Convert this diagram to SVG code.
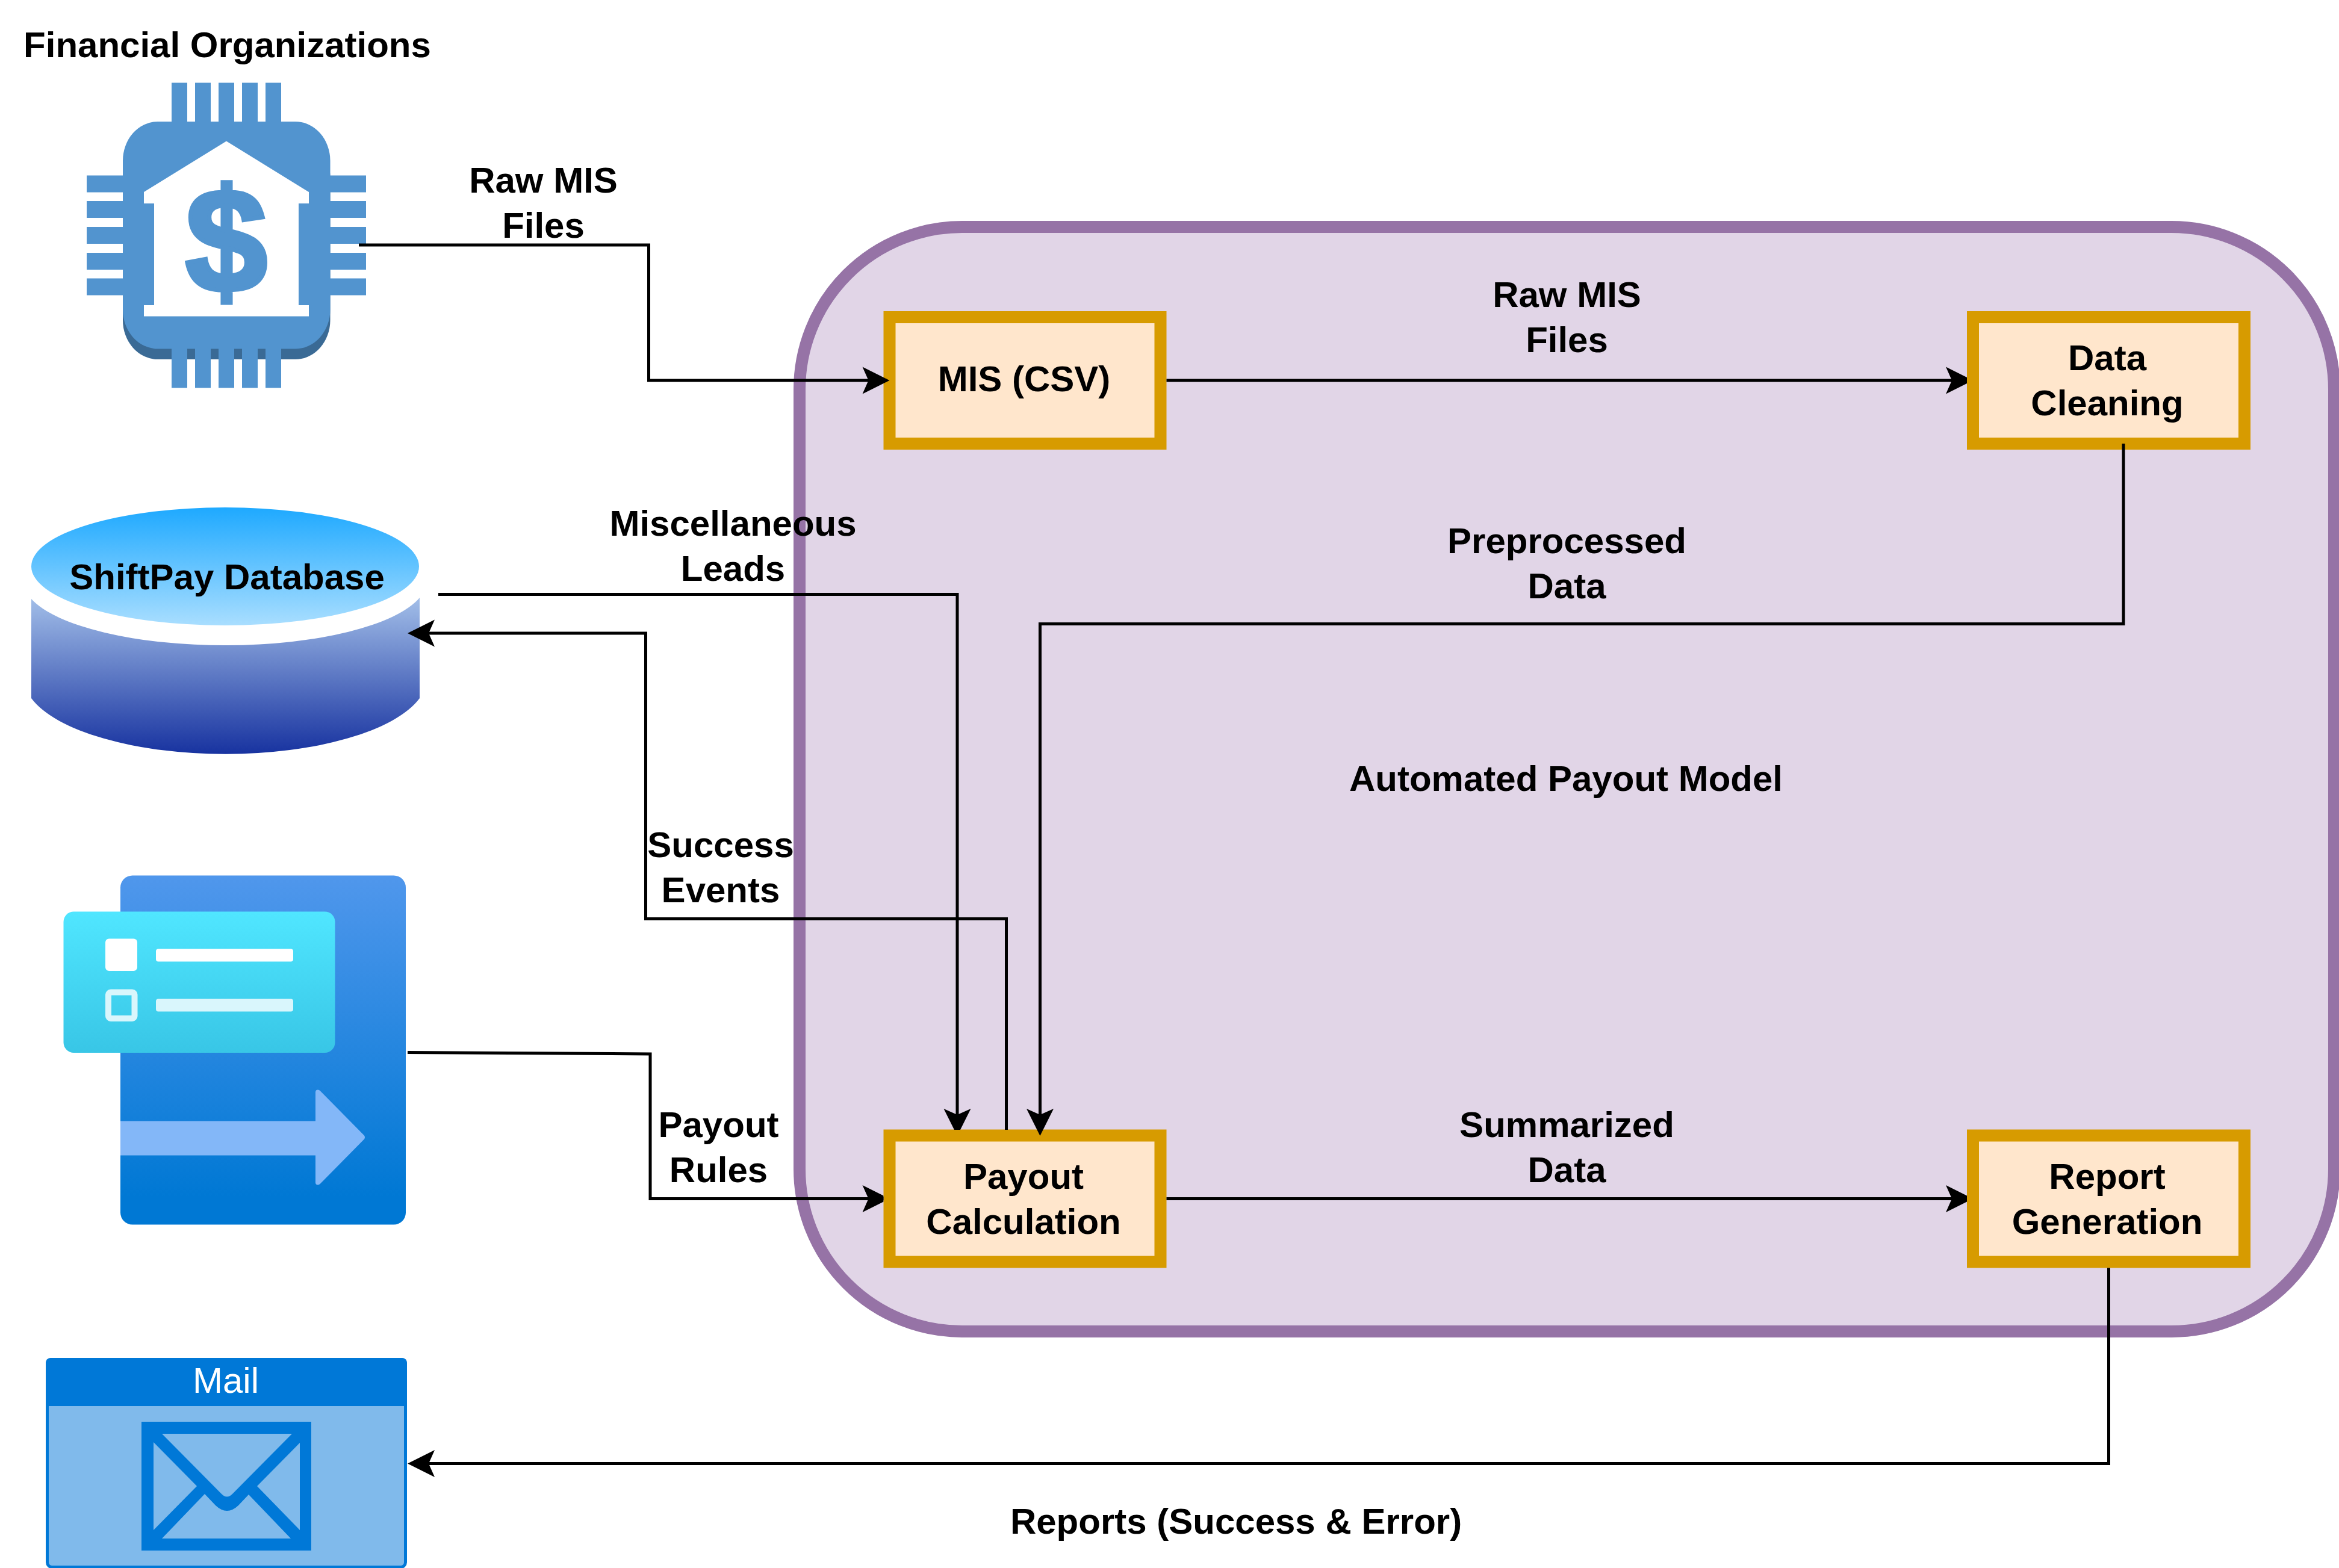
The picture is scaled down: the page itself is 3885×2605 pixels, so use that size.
<svg xmlns="http://www.w3.org/2000/svg" width="3885" height="2605" viewBox="0 0 3885 2605">
<style>
text{font-family:"Liberation Sans",Arial,sans-serif;font-size:60px;font-weight:700;fill:#000;text-anchor:middle}
.box{fill:#FFE6CC;stroke:#D79B00;stroke-width:20}
.c{fill:none;stroke:#000;stroke-width:5;stroke-linejoin:miter}
.a{marker-end:url(#arrow)}
.chip{fill:#5294CF}
</style>
<defs>
<marker id="arrow" markerUnits="userSpaceOnUse" markerWidth="46" markerHeight="46" refX="40" refY="22.5" orient="auto" overflow="visible"><path d="M0 0L45 22.5L0 45L10 22.5Z" fill="#000"/></marker>
<linearGradient id="dbTop" x1="0" y1="0" x2="0" y2="1"><stop offset="0" stop-color="#1EA9FF"/><stop offset="1" stop-color="#A9DEFF"/></linearGradient>
<linearGradient id="dbBody" gradientUnits="userSpaceOnUse" x1="0" y1="993" x2="0" y2="1252"><stop offset="0" stop-color="#A2BEE8"/><stop offset="1" stop-color="#1833A0"/></linearGradient>
<linearGradient id="doc" x1="0" y1="0" x2="0" y2="1"><stop offset="0" stop-color="#5097EC"/><stop offset="0.92" stop-color="#0078D4"/></linearGradient>
<linearGradient id="card" x1="0" y1="0" x2="0" y2="1"><stop offset="0" stop-color="#50E6FF"/><stop offset="1" stop-color="#38C6E6"/></linearGradient>
<clipPath id="leftOfPayout"><rect x="0" y="0" width="1467.4" height="2605"/></clipPath>
<clipPath id="abovePayout"><rect x="0" y="0" width="3885" height="1877"/></clipPath>
<clipPath id="leftOfRight"><rect x="0" y="0" width="3267" height="2605"/></clipPath>
</defs>
<rect width="3885" height="2605" fill="#fff"/>
<g id="automated-payout-model">
<rect x="1328" y="377" width="2549" height="1835" rx="270" ry="270" fill="#E1D5E7" stroke="#9673A6" stroke-width="20"/>
<text x="2601" y="1314">Automated Payout Model</text>
</g>
<g id="financial-organizations">
<text x="377.500" y="94.500">Financial Organizations</text>
<rect x="204" y="230" width="344.500" height="367" rx="58" ry="65" fill="#3A6A95"/>
<path class="chip" d="M285 137.500h26V202h13v-64.500h26V202h13v-64.500h26V202h13v-64.500h26V202h13v-64.500h26V202h23.500a58 65 0 0 1 58 65v24.500h59.500v28H548.500V334h59.500v28H548.500v15h59.500v28H548.500v15h59.500v28H548.500v14.500h59.500v28H548.500V514.500a58 65 0 0 1-58 65H467v65h-26v-65h-13v65h-26v-65h-13v65h-26v-65h-13v65h-26v-65h-13v65h-26v-65H262a58 65 0 0 1-58-65V490.500H144v-28h60V448H144v-28h60V405H144v-28h60V362H144v-28h60V319.500H144v-28h60V267a58 65 0 0 1 58-65h23Z"/>
<path fill="#fff" d="M376 234.500L513 319V338H496V507H513V525.500H239V507H256V338H239V319Z"/>
<text x="376" y="485" style="font-size:245px;fill:#5294CF;stroke:#5294CF;stroke-width:7">$</text>
</g>
<g id="shiftpay-database">
<path fill="url(#dbBody)" d="M52 995A335 107 0 0 0 697 993V1160A335 127 0 0 1 52 1160Z"/>
<ellipse cx="374" cy="941" rx="322" ry="98" fill="url(#dbTop)"/>
<text x="377" y="979">ShiftPay Database</text>
</g>
<g id="payout-rules">
<rect x="200" y="1454.500" width="474" height="580" rx="20" fill="url(#doc)"/>
<rect x="105.500" y="1514.500" width="451" height="234.500" rx="17" fill="url(#card)"/>
<rect x="175" y="1559.500" width="53" height="53.500" rx="6" fill="#fff"/>
<rect x="259" y="1576.500" width="228" height="21" rx="4" fill="#fff"/>
<rect x="180" y="1648.500" width="43.500" height="43.500" rx="4" fill="none" stroke="#D9F6FC" stroke-width="10"/>
<rect x="259" y="1659.500" width="228" height="21" rx="4" fill="#D9F6FC"/>
<path fill="#83B7F8" d="M200 1862.500H524V1814.500Q524 1810.500 528 1810.500Q530 1810.500 532 1812.500L605 1886.500Q607 1889.500 605 1892.500L532 1966.500Q530 1968.500 528 1968.500Q524 1968.500 524 1964.500V1919.500H200Z"/>
</g>
<g id="mail">
<rect x="78.500" y="2258.500" width="595" height="345" rx="8" fill="#80BAEB" stroke="#0078D7" stroke-width="5"/>
<path fill="#0078D7" d="M76 2336V2264a8 8 0 0 1 8-8H668a8 8 0 0 1 8 8V2336Z"/>
<text x="375" y="2314" style="fill:#fff;font-weight:400">Mail</text>
<rect x="235" y="2362" width="282" height="214" fill="#0078D7"/>
<path fill="#80BAEB" d="M269 2382H485L387 2481Q377 2492 367 2481Z"/>
<path fill="#80BAEB" d="M255 2396L327 2469L255 2542Z"/>
<path fill="#80BAEB" d="M498 2397L427 2469L498 2542Z"/>
<path fill="#80BAEB" d="M269 2556L340 2482L358 2501Q377 2519 396 2501L413 2483L483 2556Z"/>
</g>
<g id="mis-csv"><rect class="box" x="1477.500" y="527" width="450" height="210"/><text x="1701" y="650">MIS (CSV)</text></g>
<g id="data-cleaning"><rect class="box" x="3277" y="527" width="451" height="210"/><text x="3500" y="615">Data</text><text x="3500" y="689.500">Cleaning</text></g>
<g id="payout-calculation"><rect class="box" x="1477.500" y="1886.500" width="450" height="210"/><text x="1700" y="1975">Payout</text><text x="1700" y="2050">Calculation</text></g>
<g id="report-generation"><rect class="box" x="3277" y="1886.500" width="451" height="210"/><text x="3500" y="1975">Report</text><text x="3500" y="2050">Generation</text></g>
<g id="connectors">
<path class="c a" d="M596 407H1077.500V632H1472.500"/>
<path class="c a" d="M1937.500 632H3272" clip-path="url(#leftOfRight)"/>
<path class="c a" d="M3527 737V1036.500H1727.500V1882"/>
<path class="c a" d="M728 987.500H1590V1882" clip-path="url(#abovePayout)"/>
<path class="c a" d="M1671.500 1877V1526.500H1072.500V1052H682"/>
<path class="c a" d="M677 1748.500L1080 1751V1991.500H1472.500" clip-path="url(#leftOfPayout)"/>
<path class="c a" d="M1937.500 1991.500H3272" clip-path="url(#leftOfRight)"/>
<path class="c a" d="M3502.500 2106.500V2431.500H682"/>
</g>
<g id="connector-labels">
<text x="902.500" y="320">Raw MIS</text><text x="902.500" y="395">Files</text>
<text x="2602.500" y="509.500">Raw MIS</text><text x="2602.500" y="584.500">Files</text>
<text x="1217.500" y="889.500">Miscellaneous</text><text x="1217.500" y="964.500">Leads</text>
<text x="2602.500" y="919">Preprocessed</text><text x="2602.500" y="994">Data</text>
<text x="1197" y="1424">Success</text><text x="1197" y="1499">Events</text>
<text x="1193.500" y="1889">Payout</text><text x="1193.500" y="1964">Rules</text>
<text x="2602.500" y="1889">Summarized</text><text x="2602.500" y="1964">Data</text>
<text x="2053" y="2548">Reports (Success &amp; Error)</text>
</g>
</svg>
